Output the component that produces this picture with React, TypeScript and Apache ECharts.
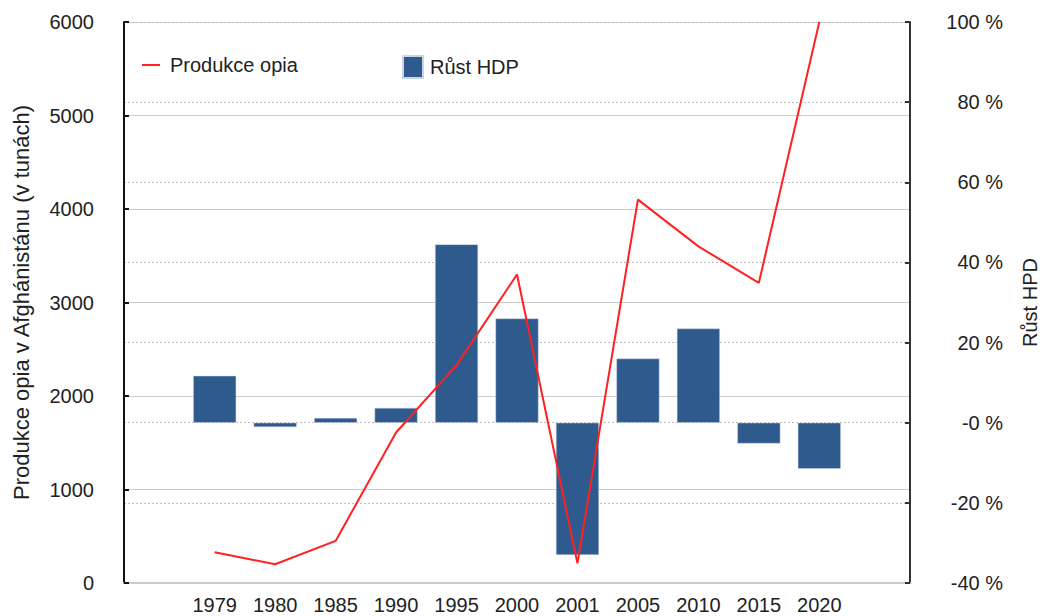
import React, { useEffect, useRef } from "react";
import * as echarts from "echarts";

const years = ["", "1979", "1980", "1985", "1990", "1995", "2000", "2001", "2005", "2010", "2015", "2020", ""];
const opiumProduction = [null, 330, 200, 450, 1610, 2330, 3300, 210, 4100, 3600, 3210, 6000, null];
const gdpGrowth = [null, 11.7, -1.1, 1.2, 3.7, 44.5, 26, -33, 16, 23.5, -5.2, -11.5, null];

const leftTicks = { min: 0, max: 6000, interval: 1000 };
const rightTicks = { min: -40, max: 100, interval: 20 };

const FONT = "'Liberation Sans', Arial, Helvetica, sans-serif";

export default function App() {
  const ref = useRef<HTMLDivElement>(null);
  useEffect(() => {
    document.body.style.margin = "0";
    const chart = echarts.init(ref.current!, undefined, { renderer: "svg" });
    chart.setOption({
      animation: false,
      backgroundColor: "#ffffff",
      textStyle: { fontFamily: FONT },
      grid: { left: 124, right: 133, top: 22, bottom: 33, containLabel: false, outerBoundsMode: "none" },
      legend: [
        {
          data: ["Produkce opia"],
          left: 137,
          top: 50,
          icon: "rect",
          itemWidth: 18,
          itemHeight: 2,
          textStyle: { fontSize: 20, color: "#222", fontFamily: FONT, padding: [0, 0, 0, 5] },
        },
        {
          data: ["Růst HDP"],
          left: 397,
          top: 50,
          icon: "rect",
          itemWidth: 20,
          itemHeight: 22,
          textStyle: { fontSize: 20, color: "#222", fontFamily: FONT, padding: [0, 0, 0, 2] },
        },
      ],
      xAxis: {
        type: "category",
        data: years,
        boundaryGap: true,
        axisLine: { lineStyle: { color: "#cccccc", width: 2 } },
        axisTick: { show: false },
        axisLabel: { fontSize: 20, color: "#222", margin: 12, fontFamily: FONT },
        splitLine: { show: false },
      },
      yAxis: [
        {
          type: "value",
          position: "left",
          min: leftTicks.min,
          max: leftTicks.max,
          interval: leftTicks.interval,
          name: "Produkce opia v Afghánistánu (v tunách)",
          nameLocation: "middle",
          nameRotate: 90,
          nameGap: 92,
          nameTextStyle: { fontSize: 22, color: "#222", fontFamily: FONT },
          axisLine: { show: true, lineStyle: { color: "#111", width: 2 } },
          axisTick: { show: true, inside: true, length: 5, lineStyle: { color: "#111", width: 2 } },
          axisLabel: { fontSize: 20, color: "#222", margin: 30, fontFamily: FONT, formatter: (v: number) => String(v) },
          splitLine: { show: true, lineStyle: { color: "#cccccc", width: 1, type: "solid" } },
        },
        {
          type: "value",
          position: "right",
          min: rightTicks.min,
          max: rightTicks.max,
          interval: rightTicks.interval,
          name: "Růst HPD",
          nameLocation: "middle",
          nameRotate: 90,
          nameGap: 110,
          nameTextStyle: { fontSize: 20, color: "#222", fontFamily: FONT },
          axisLine: { show: true, lineStyle: { color: "#333", width: 2 } },
          axisTick: { show: true, inside: true, length: 5, lineStyle: { color: "#333", width: 2 } },
          axisLabel: {
            fontSize: 20,
            color: "#222",
            align: "right",
            margin: 93,
            fontFamily: FONT,
            formatter: (v: number) => (v === 0 ? "-0 %" : `${v} %`),
          },
          splitLine: { show: true, lineStyle: { color: "#bbbbbb", width: 1, type: [2, 2] } },
        },
      ],
      series: [
        {
          name: "Růst HDP",
          type: "bar",
          yAxisIndex: 1,
          data: gdpGrowth,
          barWidth: 43,
          itemStyle: { color: "#2e5a8e", borderColor: "#c9d4e2", borderWidth: 0.5 },
          z: 2,
        },
        {
          name: "Produkce opia",
          type: "line",
          yAxisIndex: 0,
          data: opiumProduction,
          symbol: "none",
          lineStyle: { color: "#ff2020", width: 2 },
          itemStyle: { color: "#ff2020" },
          z: 3,
        },
      ],
    });
    return () => chart.dispose();
  }, []);
  return <div ref={ref} style={{ width: 1043, height: 616 }} />;
}
